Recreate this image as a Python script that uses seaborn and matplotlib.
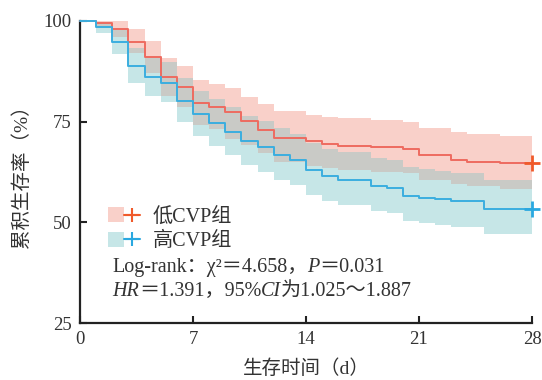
import numpy as np
import pandas as pd
import seaborn as sns
import matplotlib.pyplot as plt
from matplotlib.patches import Patch
from matplotlib.lines import Line2D
from matplotlib.legend_handler import HandlerTuple

# survival (%) on each day interval [d, d+1)
days = list(range(29))
low_surv = [100, 99.4, 97.9, 94.9, 91.0, 86.0, 83.5, 79.6, 78.6, 77.5, 75.1, 72.9, 71.0, 71.0, 70.1,
            69.5, 69.0, 69.0, 68.6, 68.6, 68.1, 66.7, 66.7, 65.6, 65.1, 65.1, 64.7, 64.7, 64.7]
low_upper = [100, 100, 100, 98.0, 95.0, 90.9, 88.8, 85.3, 84.4, 83.4, 81.2, 79.4, 77.6, 77.6, 76.6,
             76.1, 75.8, 75.8, 75.4, 75.4, 74.8, 73.5, 73.5, 72.4, 71.9, 71.9, 71.5, 71.5, 71.5]
low_lower = [100, 98.3, 96.1, 92.1, 87.0, 81.4, 78.7, 74.2, 73.2, 70.6, 69.2, 67.1, 65.1, 65.1, 64.1,
             63.6, 63.0, 63.0, 62.6, 62.6, 62.2, 60.5, 60.5, 59.5, 58.9, 58.9, 58.3, 58.3, 58.3]

high_surv = [100, 98.6, 94.9, 88.9, 86.0, 84.5, 80.2, 76.8, 74.6, 72.5, 70.2, 68.6, 66.6, 65.4, 62.9,
             61.5, 60.5, 60.5, 59.1, 58.6, 56.6, 56.1, 55.7, 55.3, 55.3, 53.2, 53.2, 53.2, 53.2]
high_upper = [100, 99.7, 97.8, 93.2, 90.7, 89.7, 85.8, 82.7, 80.6, 78.7, 76.4, 75.2, 73.4, 71.9, 69.8,
              68.2, 67.5, 67.5, 65.9, 65.5, 63.8, 63.3, 62.7, 62.3, 62.3, 60.5, 60.5, 60.5, 60.5]
high_lower = [100, 96.9, 91.7, 84.7, 81.4, 79.8, 75.0, 71.4, 68.9, 66.8, 64.2, 62.5, 60.6, 59.3, 56.7,
              55.3, 54.3, 54.3, 52.9, 52.4, 50.4, 49.9, 49.3, 48.9, 48.9, 47.0, 47.0, 47.0, 47.0]

groups = ['低CVP组', '高CVP组']
line_colors = {'低CVP组': '#EE6B60', '高CVP组': '#3BAEDF'}
mark_colors = {'低CVP组': '#F05A2A', '高CVP组': '#2AA8E0'}
band_colors = {'低CVP组': '#F9D0C9', '高CVP组': '#C6E6E7'}
overlap_color = '#C9CAC6'

df = pd.DataFrame({
    'day': days * 2,
    'surv': low_surv + high_surv,
    'group': [groups[0]] * len(days) + [groups[1]] * len(days),
})

sns.set_style('ticks')
plt.rcParams['font.family'] = ['Liberation Serif', 'Noto Sans CJK SC']
plt.rcParams['axes.unicode_minus'] = False
txt_color = '#333333'

fig = plt.figure(figsize=(5.42, 3.8), dpi=100)
ax = fig.add_axes([80 / 542, 1 - 323 / 380, 452 / 542, 302 / 380])

# confidence bands
ax.fill_between(days, low_lower, low_upper, step='post', color=band_colors[groups[0]], lw=0, zorder=1)
ax.fill_between(days, high_lower, high_upper, step='post', color=band_colors[groups[1]], lw=0, zorder=1)
ov_lo = np.maximum(low_lower, high_lower)
ov_hi = np.maximum(np.minimum(low_upper, high_upper), ov_lo)
ax.fill_between(days, ov_lo, ov_hi, step='post', color=overlap_color, lw=0, zorder=2)

sns.lineplot(data=df, x='day', y='surv', hue='group', palette=line_colors, estimator=None,
             drawstyle='steps-post', legend=False, linewidth=1.4, ax=ax, zorder=3, clip_on=False)

# censor marks at the end
ax.plot(days[-1], low_surv[-1], marker='+', ms=11, mew=2, color=mark_colors[groups[0]], clip_on=False, zorder=5)
ax.plot(days[-1], high_surv[-1], marker='+', ms=11, mew=2, color=mark_colors[groups[1]], clip_on=False, zorder=5)

ax.set_xlim(0, 28)
ax.set_ylim(25, 100)
ax.set_xticks([0, 7, 14, 21, 28])
ax.set_yticks([25, 50, 75, 100])
ax.tick_params(direction='in', length=5, width=1.5, labelsize=13.5, pad=6,
               colors='#222222', labelcolor=txt_color)
sns.despine(ax=ax)
for s in ['left', 'bottom']:
    ax.spines[s].set_linewidth(1.6)
    ax.spines[s].set_color('#222222')

ax.set_xlabel('生存时间（d）', fontsize=14, color=txt_color, labelpad=8)
ax.set_ylabel('累积生存率（%）', fontsize=14, color=txt_color, labelpad=9)

# legend
handles = []
for g in groups:
    handles.append((Patch(facecolor=band_colors[g], edgecolor='none'),
                    Line2D([], [], color=mark_colors[g], lw=1.5, marker='+', ms=10, mew=1.5)))
ax.legend(handles, groups, handler_map={tuple: HandlerTuple(ndivide=None, pad=0)},
          loc='center left', bbox_to_anchor=(0.062, 0.31), frameon=False, fontsize=14.5,
          handlelength=1.6, handleheight=0.75, handletextpad=0.6, labelspacing=0.25,
          borderpad=0, borderaxespad=0, labelcolor=txt_color)


def seg_text(x, y, parts):
    t = ax.text(x, y, parts[0][0], transform=ax.transAxes, style=parts[0][1],
                fontsize=14.5, color=txt_color, va='center', ha='left')
    for s, st in parts[1:]:
        t = ax.annotate(s, xy=(1, 0), xycoords=t, va='bottom', ha='left', style=st,
                        fontsize=14.5, color=txt_color)


seg_text(0.071, 0.185, [('Log-rank：χ²＝4.658，', 'normal'), ('P', 'italic'), ('＝0.031', 'normal')])
seg_text(0.071, 0.103, [('HR', 'italic'), ('＝1.391，95%', 'normal'), ('CI', 'italic'),
                        ('为1.025～1.887', 'normal')])

fig.savefig('out.png', dpi=100)
